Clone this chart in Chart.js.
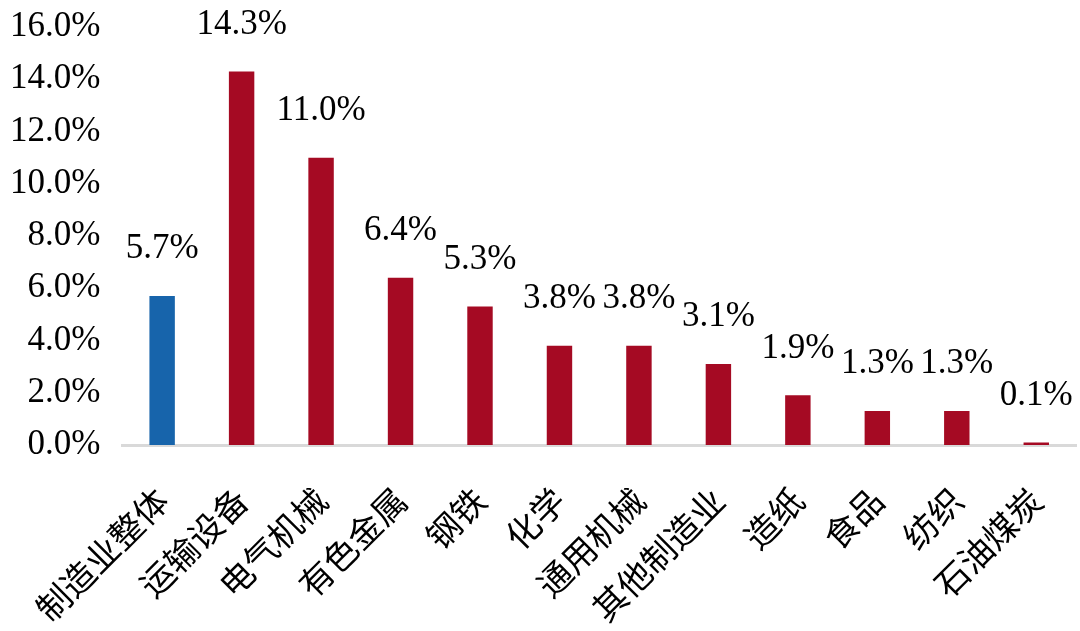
<!DOCTYPE html>
<html>
<head>
<meta charset="utf-8">
<script src="https://cdn.jsdelivr.net/npm/chart.js@4.4.0/dist/chart.umd.min.js"></script>
<style>
  html, body { margin: 0; padding: 0; background: #fff; }
  #wrap { width: 1080px; height: 631px; }
</style>
</head>
<body>
<div id="wrap"><canvas id="grafica"></canvas></div>
<script>
const categorias = ["制造业整体", "运输设备", "电气机械", "有色金属", "钢铁", "化学", "通用机械", "其他制造业", "造纸", "食品", "纺织", "石油煤炭"];
const valores = [5.7, 14.3, 11.0, 6.4, 5.3, 3.8, 3.8, 3.1, 1.9, 1.3, 1.3, 0.1];
const colores = ["#1764AB", "#A50A23", "#A50A23", "#A50A23", "#A50A23", "#A50A23", "#A50A23", "#A50A23", "#A50A23", "#A50A23", "#A50A23", "#A50A23"];

// etiquetas encima de cada barra
const etiquetas = {
    id: 'etiquetas',
    afterDatasetsDraw(chart) {
        const ctx = chart.ctx;
        const meta = chart.getDatasetMeta(0);
        ctx.save();
        ctx.font = '35px "Liberation Serif", "Times New Roman", serif';
        ctx.fillStyle = '#000';
        ctx.textAlign = 'center';
        ctx.textBaseline = 'middle';
        meta.data.forEach((barra, i) => {
            ctx.fillText(valores[i].toFixed(1) + '%', barra.x, barra.y - 47);
        });
        ctx.restore();
    }
};

const ctx = document.getElementById('grafica').getContext('2d');
new Chart(ctx, {
    type: 'bar',
    data: {
        labels: categorias,
        datasets: [{
            data: valores,
            backgroundColor: colores,
            barPercentage: 0.32,
            categoryPercentage: 1.0
        }]
    },
    options: {
        responsive: true,
        maintainAspectRatio: false,
        animation: false,
        layout: { padding: { top: 27, right: 4, left: -12, bottom: 0 } },
        plugins: {
            legend: { display: false },
            tooltip: { enabled: false }
        },
        scales: {
            x: {
                grid: { display: false, drawTicks: false },
                border: { display: true, color: '#D9D9D9', width: 3 },
                ticks: {
                    color: '#000',
                    minRotation: 45,
                    maxRotation: 45,
                    padding: 35,
                    font: { family: '"Noto Sans CJK SC", sans-serif', size: 34 }
                },
                afterFit(scale) {
                    scale.height = 186;
                    scale.paddingLeft = 0;
                    scale.paddingRight = 0;
                }
            },
            y: {
                min: 0,
                max: 16,
                grid: { display: false, drawTicks: false },
                border: { display: false },
                ticks: {
                    stepSize: 2,
                    color: '#000',
                    padding: 22,
                    font: { family: '"Liberation Serif", "Times New Roman", serif', size: 35 },
                    callback: v => v.toFixed(1) + '%'
                },
                afterFit(scale) {
                    scale.paddingTop = 0;
                    scale.paddingBottom = 0;
                }
            }
        }
    },
    plugins: [etiquetas]
});
</script>
</body>
</html>
